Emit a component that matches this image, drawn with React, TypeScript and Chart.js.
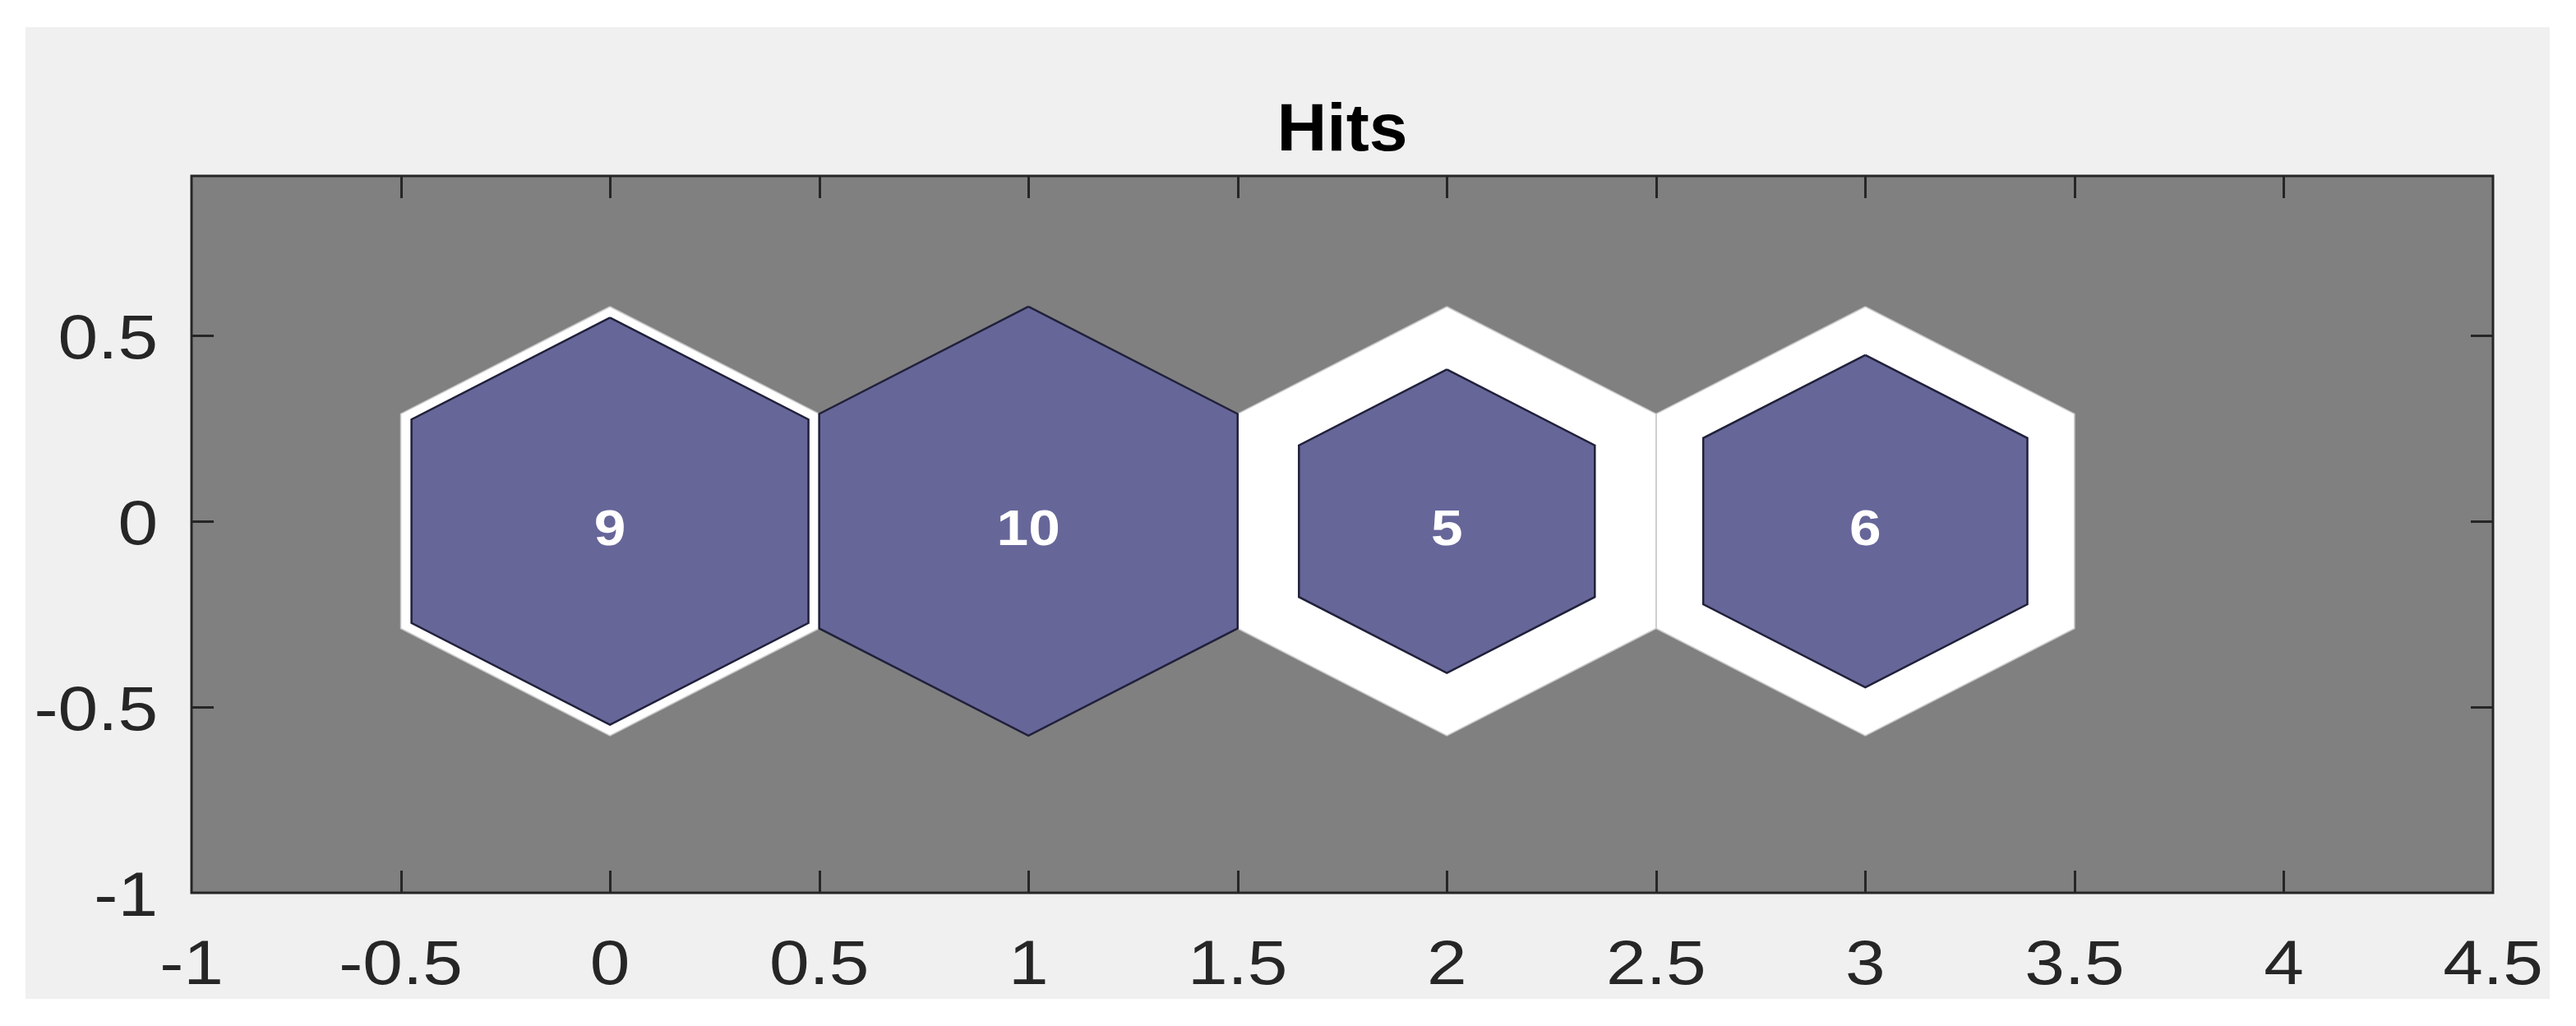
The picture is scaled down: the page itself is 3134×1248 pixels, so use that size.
import React, { useEffect, useRef } from "react";
import { Chart, registerables } from "chart.js";

Chart.register(...registerables);

// ---- data ----
const neuronX = [0, 1, 2, 3];
const neuronY = [0, 0, 0, 0];
const hits = [9, 10, 5, 6];
const xTicks = [-1, -0.5, 0, 0.5, 1, 1.5, 2, 2.5, 3, 3.5, 4, 4.5];
const yTicks = [-1, -0.5, 0, 0.5];
const xRange = [-1, 4.5];
const yRange = [-1, 0.929];
const chartTitle = "Hits";

// ---- styles ----
const FONT = "'Liberation Sans', Arial, Helvetica, sans-serif";
const PURPLE = "#666699";
const EDGE = "#20203a";
const AXIS = "#262626";
const PLOT_BG = "#808080";
const FIG_BG = "#f0f0f0";
const STRETCH = 1.15;

function hexPoints(cx: number, cy: number, scale: number) {
  const R = scale / Math.sqrt(3);
  const pts: { x: number; y: number }[] = [];
  for (let k = 0; k <= 6; k++) {
    const a = Math.PI / 2 - (k * Math.PI) / 3;
    pts.push({ x: cx + R * Math.cos(a), y: cy + R * Math.sin(a) });
  }
  return pts;
}

const maxHits = Math.max(...hits);

function stretchedText(
  ctx: CanvasRenderingContext2D,
  text: string,
  x: number,
  y: number,
  align: CanvasTextAlign,
  sx: number
) {
  ctx.save();
  ctx.translate(x, y);
  ctx.scale(sx, 1);
  ctx.textAlign = align;
  ctx.fillText(text, 0, 0);
  ctx.restore();
}

const somPlugin = {
  id: "somDecor",
  beforeDatasetsDraw(chart: any) {
    const { ctx, chartArea: a } = chart;
    ctx.save();
    ctx.fillStyle = PLOT_BG;
    ctx.fillRect(a.left, a.top, a.right - a.left, a.bottom - a.top);
    ctx.restore();
  },
  afterDatasetsDraw(chart: any) {
    const { ctx } = chart;
    const xs = chart.scales.x;
    const ys = chart.scales.y;
    ctx.save();
    ctx.fillStyle = "#ffffff";
    ctx.font = `bold 62px ${FONT}`;
    ctx.textBaseline = "alphabetic";
    hits.forEach((h, i) => {
      stretchedText(
        ctx,
        String(h),
        xs.getPixelForValue(neuronX[i]),
        ys.getPixelForValue(neuronY[i]) + 29,
        "center",
        1.12
      );
    });
    ctx.restore();
  },
  afterDraw(chart: any) {
    const { ctx, chartArea: a } = chart;
    const xs = chart.scales.x;
    const ys = chart.scales.y;
    const TL = 27;
    ctx.save();
    ctx.strokeStyle = AXIS;
    ctx.lineWidth = 3;
    ctx.beginPath();
    xTicks.forEach((v) => {
      if (v === xRange[0] || v === xRange[1]) return;
      const px = Math.round(xs.getPixelForValue(v)) + 0.5;
      ctx.moveTo(px, a.bottom);
      ctx.lineTo(px, a.bottom - TL);
      ctx.moveTo(px, a.top);
      ctx.lineTo(px, a.top + TL);
    });
    yTicks.forEach((v) => {
      if (v === yRange[0] || v === yRange[1]) return;
      const py = Math.round(ys.getPixelForValue(v)) + 0.5;
      ctx.moveTo(a.left, py);
      ctx.lineTo(a.left + TL, py);
      ctx.moveTo(a.right, py);
      ctx.lineTo(a.right - TL, py);
    });
    ctx.stroke();
    ctx.strokeRect(a.left, a.top, a.right - a.left, a.bottom - a.top);

    // tick labels
    ctx.fillStyle = AXIS;
    ctx.font = `76px ${FONT}`;
    ctx.textBaseline = "alphabetic";
    xTicks.forEach((v) => {
      stretchedText(ctx, String(v), xs.getPixelForValue(v), a.bottom + 111, "center", STRETCH);
    });
    yTicks.forEach((v) => {
      stretchedText(ctx, String(v), a.left - 41, ys.getPixelForValue(v) + 28, "right", STRETCH);
    });

    // title
    ctx.fillStyle = "#000000";
    ctx.font = `bold 81px ${FONT}`;
    stretchedText(ctx, chartTitle, (a.left + a.right) / 2, a.top - 31, "center", 1.04);
    ctx.restore();
  },
};

export default function App() {
  const ref = useRef<HTMLCanvasElement | null>(null);

  useEffect(() => {
    if (!ref.current) return;
    const inner = neuronX.map((x, i) => ({
      type: "line" as const,
      data: hexPoints(x, neuronY[i], Math.sqrt(hits[i] / maxHits)),
      backgroundColor: PURPLE,
      borderColor: EDGE,
      borderWidth: 2.5,
      fill: "shape",
      pointRadius: 0,
      tension: 0,
      order: 0,
    }));
    const outer = neuronX.map((x, i) => ({
      type: "line" as const,
      data: hexPoints(x, neuronY[i], 1),
      backgroundColor: "#ffffff",
      borderColor: "#c8c8c8",
      borderWidth: 1.5,
      fill: "shape",
      pointRadius: 0,
      tension: 0,
      order: 1,
    }));
    const chart = new Chart(ref.current, {
      type: "line",
      data: { datasets: [...inner, ...outer] as any },
      options: {
        animation: false,
        responsive: true,
        maintainAspectRatio: false,
        devicePixelRatio: 1,
        layout: { padding: { left: 0, right: 69, top: 181, bottom: 0 } },
        plugins: {
          legend: { display: false },
          tooltip: { enabled: false },
          title: { display: false },
        },
        scales: {
          x: {
            type: "linear",
            min: xRange[0],
            max: xRange[1],
            afterBuildTicks: (s: any) => {
              s.ticks = xTicks.map((v) => ({ value: v }));
            },
            afterFit: (s: any) => {
              s.height = 129;
            },
            ticks: { display: false },
            grid: { display: false, drawTicks: false },
            border: { display: false },
          },
          y: {
            type: "linear",
            min: yRange[0],
            max: yRange[1],
            afterBuildTicks: (s: any) => {
              s.ticks = yTicks.map((v) => ({ value: v }));
            },
            afterFit: (s: any) => {
              s.width = 202;
            },
            ticks: { display: false },
            grid: { display: false, drawTicks: false },
            border: { display: false },
          },
        },
      } as any,
      plugins: [somPlugin],
    });
    return () => chart.destroy();
  }, []);

  return (
    <div
      style={{
        position: "absolute",
        left: 31,
        top: 33,
        width: 3071,
        height: 1182,
        background: FIG_BG,
      }}
    >
      <canvas ref={ref} />
    </div>
  );
}
